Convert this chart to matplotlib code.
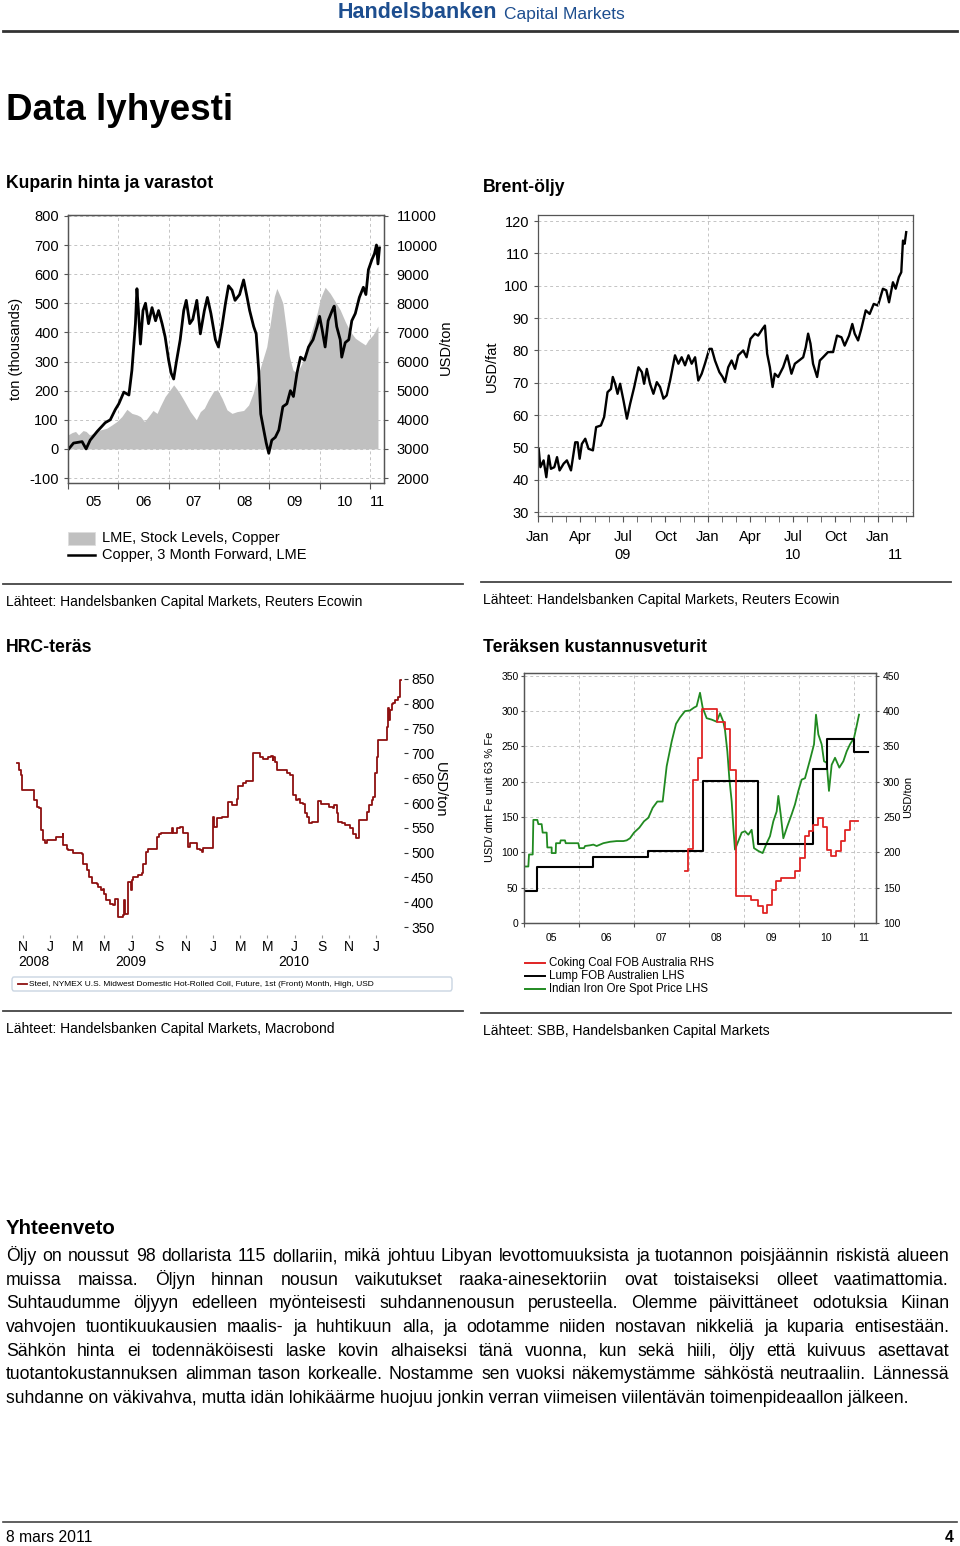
import matplotlib
matplotlib.use("Agg")
import matplotlib.pyplot as plt
from matplotlib.lines import Line2D
from matplotlib.patches import FancyBboxPatch, Rectangle

plt.rcParams["font.family"] = "Liberation Sans"
plt.rcParams["axes.unicode_minus"] = False

# --- Kuparin hinta ja varastot -------------------------------------------
cu_year = [2005.00, 2005.11, 2005.28, 2005.36, 2005.44, 2005.58, 2005.74, 2005.84, 2005.94,
           2006.01, 2006.11, 2006.21, 2006.27, 2006.34, 2006.37, 2006.40, 2006.44, 2006.49,
           2006.54, 2006.60, 2006.67, 2006.74, 2006.80, 2006.87, 2006.93, 2007.00, 2007.05,
           2007.10, 2007.15, 2007.23, 2007.30, 2007.35, 2007.42, 2007.48, 2007.56, 2007.63,
           2007.71, 2007.77, 2007.84, 2007.93, 2007.99, 2008.06, 2008.13, 2008.19, 2008.26,
           2008.32, 2008.41, 2008.49, 2008.56, 2008.61, 2008.69, 2008.74, 2008.79, 2008.83,
           2008.89, 2008.94, 2008.99, 2009.05, 2009.12, 2009.19, 2009.27, 2009.35, 2009.42,
           2009.48, 2009.55, 2009.62, 2009.70, 2009.78, 2009.87, 2009.95, 2010.00, 2010.05,
           2010.11, 2010.17, 2010.25, 2010.29, 2010.34, 2010.41, 2010.44, 2010.51, 2010.58,
           2010.64, 2010.71, 2010.79, 2010.87, 2010.92, 2010.97, 2011.04, 2011.09, 2011.13,
           2011.16, 2011.19]
cu_usd = [2970, 3200, 3250, 3000, 3300, 3600, 3900, 4000, 4350,
          4550, 4950, 4850, 5700, 7300, 8500, 7750, 6600, 7750,
          8000, 7300, 7850, 7400, 7750, 7300, 6850, 6050, 5600,
          5400, 5950, 6750, 7750, 8100, 7300, 7450, 8100, 6950,
          7750, 8200, 7650, 6750, 6500, 7200, 8000, 8600, 8450,
          8100, 8300, 8800, 8200, 7750, 7200, 6950, 5700, 4200,
          3650, 3200, 2850, 3300, 3400, 3650, 4450, 4550, 5000,
          4800, 5600, 6150, 6050, 6500, 6750, 7200, 7550, 7100,
          6500, 7400, 7750, 7900, 7200, 6750, 6150, 6650, 6750,
          7400, 7650, 8200, 8550, 8300, 9150, 9500, 9700, 10000,
          9350, 9900]
st_year = [2005.00, 2005.08, 2005.15, 2005.21, 2005.30, 2005.36, 2005.43, 2005.51, 2005.64,
           2005.77, 2005.87, 2005.97, 2006.07, 2006.17, 2006.27, 2006.37, 2006.44, 2006.52,
           2006.60, 2006.69, 2006.77, 2006.83, 2006.93, 2007.03, 2007.10, 2007.20, 2007.30,
           2007.43, 2007.55, 2007.63, 2007.71, 2007.79, 2007.89, 2007.97, 2008.06, 2008.16,
           2008.26, 2008.36, 2008.49, 2008.59, 2008.68, 2008.75, 2008.85, 2008.95, 2009.03,
           2009.10, 2009.15, 2009.22, 2009.27, 2009.34, 2009.40, 2009.47, 2009.55, 2009.65,
           2009.75, 2009.85, 2009.95, 2010.03, 2010.11, 2010.21, 2010.31, 2010.41, 2010.51,
           2010.61, 2010.71, 2010.81, 2010.91, 2010.97, 2011.06, 2011.16]
st_kt = [48, 56, 60, 48, 63, 60, 48, 54, 65,
         71, 82, 94, 111, 136, 122, 117, 111, 94,
         111, 132, 122, 145, 180, 203, 220, 197, 168,
         128, 100, 128, 140, 168, 197, 203, 174, 134,
         122, 128, 132, 151, 191, 237, 294, 351, 443,
         523, 551, 523, 500, 408, 317, 271, 260, 294,
         351, 408, 466, 523, 555, 534, 506, 477, 437,
         403, 380, 368, 357, 374, 391, 422]
cu_years_lbl = ["05", "06", "07", "08", "09", "10", "11"]

# --- Brent-öljy -----------------------------------------------------------
brent_year = [2009.004, 2009.014, 2009.033, 2009.049, 2009.063, 2009.076, 2009.096, 2009.112,
              2009.127, 2009.151, 2009.170, 2009.194, 2009.219, 2009.233, 2009.245, 2009.258,
              2009.278, 2009.297, 2009.323, 2009.342, 2009.370, 2009.389, 2009.409, 2009.429,
              2009.440, 2009.454, 2009.468, 2009.483, 2009.503, 2009.523, 2009.542, 2009.566,
              2009.591, 2009.611, 2009.624, 2009.640, 2009.659, 2009.679, 2009.699, 2009.718,
              2009.738, 2009.757, 2009.777, 2009.806, 2009.826, 2009.845, 2009.865, 2009.885,
              2009.904, 2009.924, 2009.943, 2009.963, 2009.982, 2010.008, 2010.022, 2010.041,
              2010.067, 2010.086, 2010.100, 2010.119, 2010.139, 2010.159, 2010.178, 2010.207,
              2010.227, 2010.250, 2010.276, 2010.295, 2010.321, 2010.335, 2010.348, 2010.364,
              2010.380, 2010.393, 2010.413, 2010.442, 2010.466, 2010.491, 2010.511, 2010.536,
              2010.560, 2010.575, 2010.589, 2010.603, 2010.618, 2010.642, 2010.658, 2010.677,
              2010.706, 2010.736, 2010.759, 2010.785, 2010.804, 2010.830, 2010.849, 2010.863,
              2010.883, 2010.902, 2010.928, 2010.951, 2010.975, 2011.000, 2011.029, 2011.049,
              2011.065, 2011.088, 2011.104, 2011.123, 2011.137, 2011.147, 2011.157, 2011.166]
brent_usd = [49.6, 43.9, 46.0, 40.8, 47.5, 43.4, 43.9, 47.0, 42.9, 45.0,
             46.0, 42.9, 51.6, 51.6, 46.5, 51.1, 52.7, 49.6, 49.1, 56.3,
             56.8, 59.4, 67.1, 68.1, 71.8, 69.7, 66.6, 69.7, 64.5, 58.9,
             63.5, 68.7, 74.8, 73.3, 69.7, 74.3, 69.7, 66.6, 70.2, 68.7,
             65.1, 66.1, 70.7, 78.5, 75.9, 77.9, 75.4, 78.5, 75.9, 77.9,
             70.7, 72.8, 75.9, 80.5, 80.5, 76.9, 73.3, 71.8, 70.2, 74.8,
             76.9, 74.3, 78.5, 80.0, 77.9, 83.6, 85.2, 84.6, 86.7, 87.7,
             79.0, 74.8, 68.7, 72.8, 71.8, 74.8, 78.5, 72.8, 75.9, 76.9,
             77.9, 81.0, 85.2, 82.1, 75.9, 71.8, 76.9, 77.9, 79.5, 79.5,
             84.6, 84.1, 81.5, 84.6, 88.2, 85.2, 83.1, 86.7, 92.4, 91.3,
             94.4, 93.9, 99.1, 98.6, 94.9, 101.1, 99.1, 102.7, 104.2, 114.0,
             113.0, 116.6]
brent_qtr_lbl = ["Jan", "Apr", "Jul", "Oct", "Jan", "Apr", "Jul", "Oct", "Jan"]
brent_years_lbl = ["09", "10", "11"]

# --- HRC-teräs (months from Nov 2008) -------------------------------------
hrc_m = [-0.42, -0.32, -0.17, -0.10, 0.76, 0.83, 1.01, 1.20, 1.30, 1.45,
         1.62, 1.74, 2.36, 2.43, 2.85, 2.92, 2.97, 3.21, 3.34, 3.51,
         3.66, 4.32, 4.44, 4.69, 4.88, 5.06, 5.42, 5.55, 5.72, 5.87,
         5.96, 6.11, 6.40, 6.65, 6.77, 6.94, 7.02, 7.34, 7.41, 7.51,
         7.63, 7.75, 7.93, 8.00, 8.12, 8.49, 8.74, 8.86, 9.03, 9.23,
         9.84, 9.89, 9.99, 10.13, 10.82, 10.94, 11.07, 11.31, 11.56, 11.75,
         11.85, 12.17, 12.29, 12.61, 12.79, 13.03, 13.15, 13.28, 13.89, 14.01,
         14.09, 14.26, 14.63, 14.99, 15.12, 15.36, 15.61, 15.73, 15.85, 16.10,
         16.22, 16.42, 16.83, 16.96, 17.33, 17.45, 17.69, 17.94, 18.06, 18.23,
         18.38, 18.43, 18.58, 18.67, 19.29, 19.41, 19.66, 19.85, 20.10, 20.27,
         20.39, 20.64, 20.76, 20.93, 21.08, 21.25, 21.62, 21.74, 21.91, 22.23,
         22.55, 22.85, 22.92, 23.09, 23.21, 23.46, 23.71, 24.07, 24.32, 24.52,
         24.69, 24.76, 25.18, 25.30, 25.50, 25.67, 25.79, 25.91, 26.09, 26.16,
         26.70, 26.77, 26.85, 26.92, 27.02, 27.14, 27.26, 27.39, 27.63, 27.75, 27.83]
hrc_usd = [681, 666, 656, 626, 626, 606, 592, 589, 545, 525,
           520, 525, 525, 532, 532, 538, 515, 508, 505, 506,
           499, 498, 477, 464, 451, 439, 436, 431, 424, 427,
           417, 404, 397, 394, 406, 406, 370, 374, 404, 377,
           377, 441, 425, 444, 450, 454, 458, 478, 501, 508,
           510, 532, 538, 539, 539, 549, 539, 549, 552, 539,
           539, 511, 520, 520, 508, 506, 501, 510, 510, 572,
           552, 569, 572, 572, 602, 595, 595, 609, 634, 634,
           641, 645, 645, 701, 701, 693, 688, 688, 693, 695,
           686, 693, 683, 666, 666, 660, 656, 616, 606, 609,
           600, 598, 579, 572, 560, 562, 562, 604, 598, 598,
           592, 589, 596, 579, 562, 559, 555, 549, 538, 530,
           530, 565, 565, 582, 596, 606, 612, 660, 693, 726,
           727, 754, 791, 767, 787, 799, 801, 808, 813, 847, 847]
hrc_month_lbl = ["N", "J", "M", "M", "J", "S", "N", "J", "M", "M", "J", "S", "N", "J"]

# --- Teräksen kustannusveturit --------------------------------------------
ore_year = [2005.000, 2005.079, 2005.091, 2005.158, 2005.170, 2005.242, 2005.261, 2005.321,
            2005.339, 2005.412, 2005.424, 2005.503, 2005.503, 2005.576, 2005.582, 2005.655,
            2005.667, 2005.745, 2005.758, 2005.988, 2006.006, 2006.091, 2006.109, 2006.200,
            2006.261, 2006.321, 2006.382, 2006.442, 2006.564, 2006.685, 2006.806, 2006.867,
            2006.927, 2007.000, 2007.097, 2007.182, 2007.261, 2007.339, 2007.424, 2007.521,
            2007.594, 2007.685, 2007.764, 2007.836, 2007.927, 2008.018, 2008.091, 2008.139,
            2008.200, 2008.248, 2008.321, 2008.412, 2008.503, 2008.564, 2008.624, 2008.655,
            2008.697, 2008.733, 2008.776, 2008.806, 2008.836, 2008.897, 2008.958, 2009.018,
            2009.079, 2009.139, 2009.182, 2009.261, 2009.339, 2009.412, 2009.473, 2009.533,
            2009.594, 2009.624, 2009.667, 2009.715, 2009.788, 2009.867, 2009.927, 2009.988,
            2010.048, 2010.109, 2010.200, 2010.273, 2010.309, 2010.352, 2010.412, 2010.455,
            2010.503, 2010.545, 2010.594, 2010.655, 2010.733, 2010.806, 2010.867, 2010.927,
            2011.000, 2011.048, 2011.091]
ore_usd = [80, 80, 97, 97, 146, 146, 140, 140, 128, 128,
           107, 107, 99, 99, 113, 113, 117, 117, 113, 113,
           106, 106, 109, 110, 111, 109, 111, 113, 115, 116,
           116, 117, 120, 128, 135, 144, 149, 163, 172, 172,
           222, 257, 282, 291, 300, 301, 305, 307, 326, 305,
           290, 288, 285, 297, 285, 273, 243, 205, 172, 135,
           104, 116, 128, 130, 125, 132, 106, 102, 99, 113,
           123, 144, 158, 180, 154, 120, 137, 154, 168, 187,
           203, 205, 231, 253, 295, 267, 253, 229, 227, 187,
           224, 234, 220, 229, 243, 253, 262, 279, 295]
lump_year = [2005.0, 2005.24, 2006.25, 2007.25, 2008.25, 2009.25, 2010.25, 2010.5, 2011.0, 2011.25]
lump_usd = [46, 79, 93, 102, 201, 112, 218, 260, 242, 242]
coal_year = [2007.92, 2007.99, 2008.08, 2008.17, 2008.24, 2008.50, 2008.66, 2008.75, 2008.85,
             2009.12, 2009.26, 2009.34, 2009.42, 2009.50, 2009.59, 2009.68, 2009.93, 2010.02,
             2010.11, 2010.18, 2010.26, 2010.35, 2010.43, 2010.50, 2010.59, 2010.67, 2010.76,
             2010.84, 2010.92, 2011.08]
coal_usd = [173, 205, 303, 333, 403, 385, 374, 316, 138,
            132, 124, 114, 126, 147, 160, 164, 173, 192,
            223, 230, 239, 248, 236, 203, 195, 202, 216,
            231, 244, 244]
cost_years_lbl = ["05", "06", "07", "08", "09", "10", "11"]

body_lines = [
    "Öljy on noussut 98 dollarista 115 dollariin, mikä johtuu Libyan levottomuuksista ja tuotannon poisjäännin riskistä alueen",
    "muissa maissa. Öljyn hinnan nousun vaikutukset raaka-ainesektoriin ovat toistaiseksi olleet vaatimattomia.",
    "Suhtaudumme öljyyn edelleen myönteisesti suhdannenousun perusteella. Olemme päivittäneet odotuksia Kiinan",
    "vahvojen tuontikuukausien maalis- ja huhtikuun alla, ja odotamme niiden nostavan nikkeliä ja kuparia entisestään.",
    "Sähkön hinta ei todennäköisesti laske kovin alhaiseksi tänä vuonna, kun sekä hiili, öljy että kuivuus asettavat",
    "tuotantokustannuksen alimman tason korkealle. Nostamme sen vuoksi näkemystämme sähköstä neutraaliin. Lännessä",
    "suhdanne on väkivahva, mutta idän lohikäärme huojuu jonkin verran viimeisen viilentävän toimenpideaallon jälkeen.",
]

W, H = 960, 1546
fig = plt.figure(figsize=(W / 100, H / 100), dpi=100)
GRID = dict(ls=(0, (3, 3)), color="#c4c4c4", lw=0.7)


def box(x0, y0, x1, y1):
    return [x0 / W, 1 - y1 / H, (x1 - x0) / W, (y1 - y0) / H]


def put(x, y, s, **kw):
    kw.setdefault("va", "center")
    return fig.text(x / W, 1 - y / H, s, **kw)


def rule(y, x0, x1, lw=1.3, color="#444444"):
    fig.add_artist(Line2D([x0 / W, x1 / W], [1 - y / H] * 2, lw=lw, color=color))


def frame(ax, color="#555555"):
    for s in ax.spines.values():
        s.set_color(color)
        s.set_linewidth(0.9)


# header / footer
put(497, 13, "Handelsbanken", ha="right", fontsize=15.5, weight="bold", color="#1d4e8f")
put(504, 14, "Capital Markets", ha="left", fontsize=12.5, color="#1d4e8f")
rule(31, 3, 957, lw=2, color="#333333")
put(6, 110, "Data lyhyesti", fontsize=26.5, weight="bold")
rule(1522, 3, 957, lw=1.2)
put(6, 1538, "8 mars 2011", fontsize=11.3)
put(954, 1538, "4", ha="right", fontsize=11.3, weight="bold")

# ---------------- chart 1 ----------------
put(6, 184, "Kuparin hinta ja varastot", fontsize=12.7, weight="bold")
ax = fig.add_axes(box(68, 215, 384, 483))
ax.fill_between(st_year, st_kt, 0, color="#c0c0c0", lw=0)
ax.set_xlim(2005, 2011.28)
ax.set_ylim(-117, 803)
ax.set_yticks(range(-100, 801, 100))
ax.set_xticks(range(2005, 2012))
ax.set_xticklabels([])
ax.set_xticks([2005.5 + i for i in range(6)] + [2011.14], minor=True)
ax.set_xticklabels(cu_years_lbl, minor=True)
ax.tick_params(axis="x", which="minor", length=0, pad=9, labelsize=10.5)
ax.tick_params(axis="x", which="major", length=4, color="#555555")
ax.tick_params(axis="y", length=3, labelsize=10.5, color="#555555")
ax.grid(True, which="major", **GRID)
ax.set_axisbelow(True)
frame(ax)
axr = ax.twinx()
axr.plot(cu_year, cu_usd, color="black", lw=2.0)
axr.set_ylim(3000 - 1170, 3000 + 8030)
axr.set_yticks(range(2000, 11001, 1000))
axr.tick_params(axis="y", length=3, pad=6, labelsize=10.5, color="#555555")
frame(axr)
put(16, 349, "ton (thousands)", rotation=90, ha="center", fontsize=10.5)
put(446, 347, "USD/ton", rotation=90, ha="center", fontsize=10.5)
fig.add_artist(Rectangle((68 / W, 1 - 545 / H), 27 / W, 13 / H, facecolor="#c0c0c0",
                         edgecolor="#dddddd", lw=0.6))
rule(555, 68, 95, lw=1.8, color="black")
put(102, 538, "LME, Stock Levels, Copper", fontsize=10.5)
put(102, 555, "Copper, 3 Month Forward, LME", fontsize=10.5)
rule(584, 3, 463)
put(6, 602, "Lähteet: Handelsbanken Capital Markets, Reuters Ecowin", fontsize=10)

# ---------------- chart 2 ----------------
put(483, 188, "Brent-öljy", fontsize=12.7, weight="bold")
ax = fig.add_axes(box(538, 215, 913, 516))
ax.plot(brent_year, brent_usd, color="black", lw=1.7)
ax.set_xlim(2009, 2011.206)
ax.set_ylim(28.8, 121.9)
ax.set_yticks(range(30, 121, 10))
ax.set_xticks([2009 + i / 4 for i in range(9)])
ax.set_xticklabels(brent_qtr_lbl)
ax.set_xticks([2009 + i / 12 for i in range(27)], minor=True)
ax.tick_params(axis="x", which="both", length=4, pad=6, labelsize=10.5, color="#555555")
ax.tick_params(axis="y", length=3, labelsize=10.5, color="#555555")
ax.yaxis.grid(True, **GRID)
for yr in (2010, 2011):
    ax.axvline(yr, **GRID)
ax.set_axisbelow(True)
frame(ax)
for lbl, xc in zip(brent_years_lbl, (2009.5, 2010.5, 2011.103)):
    ax.text(xc, -0.13, lbl, transform=ax.get_xaxis_transform(), ha="center", va="center",
            fontsize=10.5)
put(492, 366, "USD/fat", rotation=90, ha="center", fontsize=10.5)
rule(582, 481, 951)
put(483, 600, "Lähteet: Handelsbanken Capital Markets, Reuters Ecowin", fontsize=10)

# ---------------- chart 3 ----------------
put(6, 647, "HRC-teräs", fontsize=12.7, weight="bold")
ax = fig.add_axes(box(12, 672, 404, 935))
ax.plot(hrc_m, hrc_usd, color="#8e1010", lw=1.3, drawstyle="steps-post")
ax.set_xlim(-0.81, 28.05)
ax.set_ylim(334, 864)
for s in ax.spines.values():
    s.set_visible(False)
ax.yaxis.tick_right()
ax.set_yticks(range(350, 851, 50))
ax.tick_params(axis="y", length=3, pad=2, labelsize=10, color="#333333")
ax.set_xticks(range(0, 27, 2))
ax.set_xticklabels(hrc_month_lbl)
ax.tick_params(axis="x", length=2, pad=1.5, labelsize=10, color="#999999")
put(18, 962, "2008", fontsize=10)
put(131, 962, "2009", ha="center", fontsize=10)
put(294, 962, "2010", ha="center", fontsize=10)
put(440, 790, "USD/ton", rotation=270, ha="center", fontsize=10.5)
fig.add_artist(FancyBboxPatch((12 / W, 1 - 991 / H), 440 / W, 14 / H,
                              boxstyle="round,pad=0,rounding_size=0.002",
                              facecolor="white", edgecolor="#c9d5e2", lw=1))
rule(984, 18, 27, lw=1.3, color="#8e1010")
put(29, 984, "Steel, NYMEX U.S. Midwest Domestic Hot-Rolled Coil, Future, 1st (Front) Month, High, USD",
    fontsize=6)
rule(1011, 3, 463)
put(6, 1029, "Lähteet: Handelsbanken Capital Markets, Macrobond", fontsize=10)

# ---------------- chart 4 ----------------
put(483, 647, "Teräksen kustannusveturit", fontsize=12.7, weight="bold")
ax = fig.add_axes(box(524, 673, 876, 923))
ax.plot(ore_year, ore_usd, color="#218a21", lw=1.3)
ax.plot(lump_year, lump_usd, color="black", lw=1.5, drawstyle="steps-post")
ax.set_xlim(2005, 2011.4)
ax.set_ylim(0, 354)
ax.set_yticks(range(0, 351, 50))
ax.set_xticks(range(2005, 2012))
ax.set_xticklabels([])
ax.set_xticks([2005.5 + i for i in range(6)] + [2011.18], minor=True)
ax.set_xticklabels(cost_years_lbl, minor=True)
ax.tick_params(axis="x", which="minor", length=0, pad=7, labelsize=7.5)
ax.tick_params(axis="x", which="major", length=3, color="#555555")
ax.tick_params(axis="y", length=2, pad=2, labelsize=7.5, color="#555555")
ax.grid(True, which="major", **GRID)
ax.set_axisbelow(True)
frame(ax)
axr = ax.twinx()
axr.plot(coal_year, coal_usd, color="#e02424", lw=1.3, drawstyle="steps-post")
axr.set_ylim(100, 454)
axr.set_yticks(range(100, 451, 50))
axr.tick_params(axis="y", length=2, pad=3, labelsize=7.5, color="#555555")
frame(axr)
put(490, 797, "USD/ dmt Fe unit 63 % Fe", rotation=90, ha="center", fontsize=8)
put(908, 797, "USD/ton", rotation=90, ha="center", fontsize=8)
for yy, col, lbl in ((963, "#e02424", "Coking Coal FOB Australia RHS"),
                     (976, "black", "Lump FOB Australien LHS"),
                     (989, "#218a21", "Indian Iron Ore Spot Price LHS")):
    rule(yy, 525, 545, lw=1.4, color=col)
    put(549, yy, lbl, fontsize=8.3)
rule(1013, 481, 951)
put(483, 1031, "Lähteet: SBB, Handelsbanken Capital Markets", fontsize=10)

# ---------------- text ----------------
put(6, 1228, "Yhteenveto", fontsize=14.7, weight="bold")
renderer = fig.canvas.get_renderer()
probe = put(0, 0, body_lines[-1], fontsize=12)
body_fs = 12 * 906 / probe.get_window_extent(renderer).width
probe.remove()
line_y = [1255, 1279, 1302, 1326, 1350, 1373, 1397]
for k, (line, yy) in enumerate(zip(body_lines, line_y)):
    base = yy + 6
    if k == len(body_lines) - 1:
        put(6, base, line, fontsize=body_fs, va="baseline")
        continue
    # justified: place words one by one, spreading the spare width over the gaps
    words = line.split(" ")
    arts = [put(0, base, w, fontsize=body_fs, va="baseline") for w in words]
    widths = [a.get_window_extent(renderer).width for a in arts]
    gap = (949 - 6 - sum(widths)) / (len(words) - 1)
    xx = 6
    for a, wd in zip(arts, widths):
        a.set_x(round(xx) / W)
        xx += wd + gap

fig.savefig("out.png", dpi=100)
